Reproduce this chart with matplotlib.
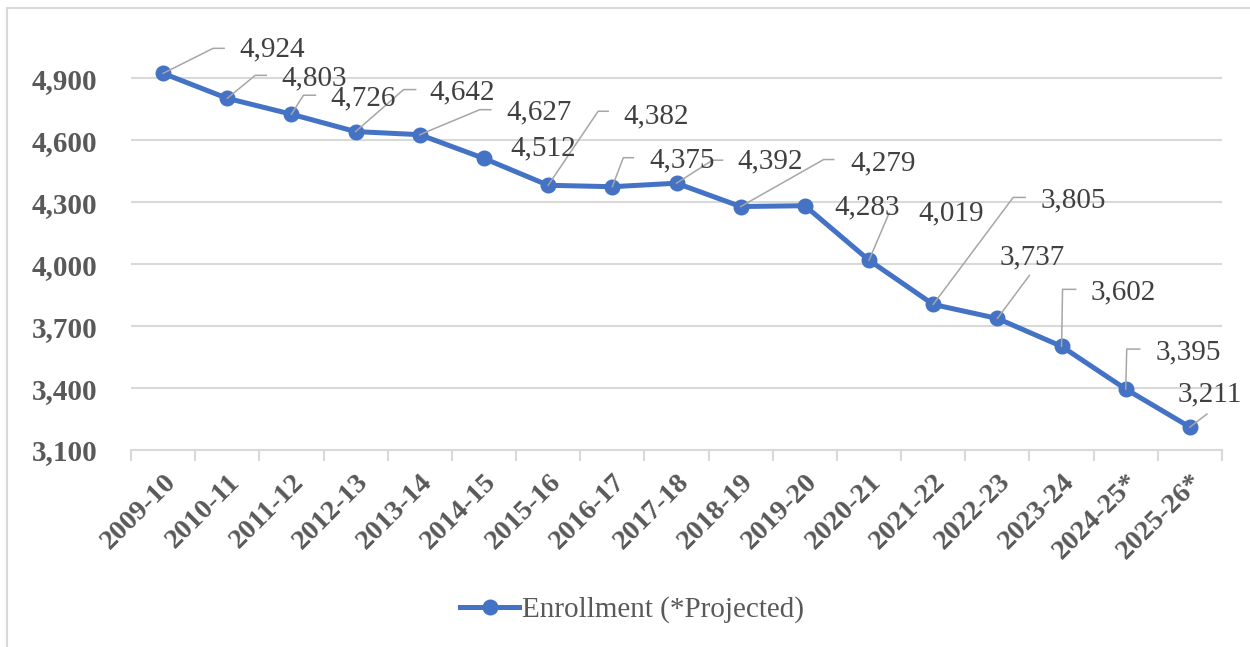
import numpy as np
import matplotlib
matplotlib.use("Agg")
import matplotlib.pyplot as plt
from matplotlib.lines import Line2D

# Enrollment data
years = ["2009-10", "2010-11", "2011-12", "2012-13", "2013-14", "2014-15",
         "2015-16", "2016-17", "2017-18", "2018-19", "2019-20", "2020-21",
         "2021-22", "2022-23", "2023-24", "2024-25*", "2025-26*"]
enrollment = [4924, 4803, 4726, 4642, 4627, 4512, 4382, 4375, 4392, 4279,
              4283, 4019, 3805, 3737, 3602, 3395, 3211]
yticks = [3100, 3400, 3700, 4000, 4300, 4600, 4900]

# label placement (pixels from the marker, y pointing down)
label_off = [(109, -24), (87, -20), (72, -16), (107, -39), (119, -22),
             (59, -10), (108, -69), (70, -26), (94, -22), (142, -43),
             (62, 2), (82, -47), (140, -104), (35, -61), (62, -54),
             (63, -37), (20, -33)]
leaders = [[(0, 0), (50, -25), (61, -25)],
           [(0, 0), (28, -23), (39, -23)],
           [(0, 0), (12, -19), (24, -19)],
           [(0, 0), (48, -42), (60, -42)],
           [(0, 0), (60, -25), (71, -25)],
           None,
           [(0, 0), (50, -74), (60, -74)],
           [(0, 0), (11, -29), (21, -29)],
           [(0, 0), (36, -23), (46, -23)],
           [(0, 0), (83, -47), (93, -47)],
           None,
           [(0, 0), (20, -47)],
           [(0, 0), (80, -107), (92, -107)],
           [(0, 0), (32, -43)],
           [(0, 0), (1, -57), (14, -57)],
           [(0, 0), (1, -40), (14, -40)],
           [(0, 0), (17, -13)]]

blue = "#4472C4"
grid_c = "#D9D9D9"
tick_c = "#595959"
label_c = "#404040"
lead_c = "#A6A6A6"

plt.rcParams['font.family'] = ['Liberation Serif', 'DejaVu Serif']

W, H = 1250, 647
fig = plt.figure(figsize=(W / 100, H / 100), dpi=100)
ax = fig.add_axes([131 / W, (H - 450) / H, (1222 - 131) / W, (450 - 37) / H])

x = np.arange(len(years))
ax.plot(x, enrollment, color=blue, lw=3.6, marker="o", ms=10.5,
        label="Enrollment (*Projected)", zorder=3, clip_on=False)

ax.set_xlim(-0.5, len(years) - 0.5)
ax.set_ylim(3100, 5100)
ax.set_yticks(yticks)
ax.set_yticklabels([f"{v:,}" for v in yticks], fontsize=21, fontweight="bold",
                   color=tick_c)
ax.tick_params(axis="y", length=0, pad=24)
ax.yaxis.grid(True, color=grid_c, lw=1.5)
ax.set_axisbelow(True)

ax.set_xticks(x)
ax.set_xticklabels(years, rotation=45, ha="right", rotation_mode="anchor",
                   fontsize=20.5, fontweight="bold", color=tick_c)
ax.set_xticks(np.arange(-0.5, len(years)), minor=True)
ax.tick_params(axis="x", which="major", length=0, pad=14)
ax.tick_params(axis="x", which="minor", length=8, width=1.5, color=grid_c)

for s in ["top", "right", "left"]:
    ax.spines[s].set_visible(False)
ax.spines["bottom"].set_color(grid_c)
ax.spines["bottom"].set_linewidth(1.5)

# data labels with leader lines
inv = ax.transData.inverted()
for i, v in enumerate(enrollment):
    px, py = ax.transData.transform((i, v))
    if leaders[i] is not None:
        pts = [inv.transform((px + dx, py - dy)) for dx, dy in leaders[i]]
        pts = np.array(pts)
        ax.plot(pts[:, 0], pts[:, 1], color=lead_c, lw=1.1, zorder=4,
                clip_on=False)
    dx, dy = label_off[i]
    ax.annotate(f"{v:,}", xy=(i, v), xytext=(dx * 0.72, -dy * 0.72),
                textcoords="offset points", ha="center", va="center",
                fontsize=21, color=label_c, zorder=5)

leg = ax.legend(loc="center", bbox_to_anchor=(632 / W, (H - 610) / H),
                bbox_transform=fig.transFigure, frameon=False, fontsize=21,
                handlelength=2.0, handletextpad=0.1, markerscale=1.0)
for t in leg.get_texts():
    t.set_color(tick_c)

# chart border (only top and left edges fall inside the picture)
fig.add_artist(Line2D([7 / W, 1.0], [(H - 8) / H, (H - 8) / H],
                      transform=fig.transFigure, color=grid_c, lw=1.5))
fig.add_artist(Line2D([7 / W, 7 / W], [0, (H - 8) / H],
                      transform=fig.transFigure, color=grid_c, lw=1.5))

fig.savefig("out.png", dpi=100)
